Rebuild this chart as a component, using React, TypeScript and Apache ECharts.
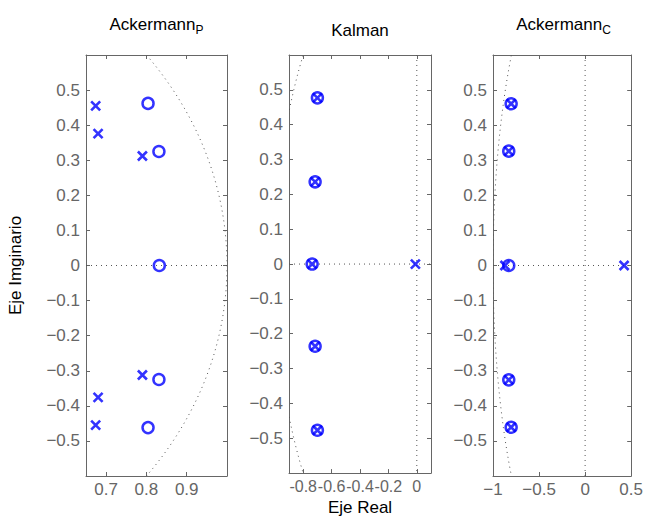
import React, { useEffect, useRef } from "react";
import * as echarts from "echarts";

// ---- axis ticks / ranges ----
const yTicks = [-0.5, -0.4, -0.3, -0.2, -0.1, 0, 0.1, 0.2, 0.3, 0.4, 0.5];
const yRange = [-0.6, 0.6];
const xTicksP = [0.7, 0.8, 0.9];
const xRangeP = [0.65, 1.0];
const xTicksK = [-0.8, -0.6, -0.4, -0.2, 0];
const xRangeK = [-0.9, 0.1];
const xTicksC = [-1, -0.5, 0, 0.5];
const xRangeC = [-1, 0.5];

// ---- panel titles ----
const titles = ["Ackermann{s|P}", "Kalman", "Ackermann{s|C}"];

// ---- unit circle (center re, center im, radius) ----
const unitCircle = [0, 0, 1];

// ---- Ackermann_P ----
const ackPPolesRe = [0.674, 0.68, 0.79, 0.79, 0.68, 0.674];
const ackPPolesIm = [0.455, 0.376, 0.312, -0.312, -0.376, -0.455];
const ackPZerosRe = [0.804, 0.831, 0.832, 0.831, 0.804];
const ackPZerosIm = [0.462, 0.325, 0, -0.325, -0.462];

// ---- Kalman ----
const kalPolesRe = [-0.7, -0.716, -0.737, -0.716, -0.7, -0.01];
const kalPolesIm = [0.477, 0.236, 0, -0.236, -0.477, 0];
const kalZerosRe = [-0.7, -0.716, -0.737, -0.716, -0.7];
const kalZerosIm = [0.477, 0.236, 0, -0.236, -0.477];

// ---- Ackermann_C ----
const ackCPolesRe = [-0.803, -0.829, -0.87, -0.829, -0.803, 0.423];
const ackCPolesIm = [0.461, 0.326, 0, -0.326, -0.461, 0];
const ackCZerosRe = [-0.803, -0.829, -0.829, -0.829, -0.803];
const ackCZerosIm = [0.461, 0.326, 0, -0.326, -0.461];

const FONT = "Liberation Sans, Arial, Helvetica, sans-serif";
const GRAY = "#666666";
const BLUE = "#0000ff";
const FS = 17;

const fmt = (v: number) => {
  const s = String(Math.round(v * 100) / 100);
  return s.replace("-", "\u2212");
};
const fmtNarrow = (v: number) => String(Math.round(v * 100) / 100);

const zip = (a: number[], b: number[]) => a.map((v, i) => [v, b[i]]);

export default function App() {
  const ref = useRef<HTMLDivElement>(null);
  useEffect(() => {
    if (!ref.current) return;
    const chart = echarts.init(ref.current, null, { renderer: "svg" });

    const grids = [
      { left: 86, top: 55, width: 141, height: 421 },
      { left: 289, top: 55, width: 142, height: 421 },
      { left: 493, top: 55, width: 141, height: 421 },
    ];
    const xCfg = [
      { range: xRangeP, ticks: xTicksP, fs: FS, f: fmt },
      { range: xRangeK, ticks: xTicksK, fs: 16, f: fmtNarrow },
      { range: xRangeC, ticks: xTicksC, fs: FS, f: fmt },
    ];
    const panels = [
      { poles: zip(ackPPolesRe, ackPPolesIm), zeros: zip(ackPZerosRe, ackPZerosIm) },
      { poles: zip(kalPolesRe, kalPolesIm), zeros: zip(kalZerosRe, kalZerosIm) },
      { poles: zip(ackCPolesRe, ackCPolesIm), zeros: zip(ackCZerosRe, ackCZerosIm) },
    ];

    const xAxis: any[] = [];
    const yAxis: any[] = [];
    grids.forEach((g, i) => {
      const common = {
        type: "value",
        gridIndex: i,
        min: xCfg[i].range[0],
        max: xCfg[i].range[1],
        axisLine: { show: true, onZero: false, lineStyle: { color: GRAY, width: 1 } },
        splitLine: { show: false },
        axisTick: { show: true, inside: true, length: 4, customValues: xCfg[i].ticks, lineStyle: { color: GRAY } },
      };
      xAxis.push({
        ...common,
        position: "bottom",
        axisLabel: {
          show: true,
          interval: 0,
          customValues: xCfg[i].ticks,
          formatter: (v: number) => xCfg[i].f(v),
          color: GRAY,
          fontSize: xCfg[i].fs,
          fontFamily: FONT,
          margin: 5,
          showMinLabel: true,
          showMaxLabel: true,
          hideOverlap: false,
        },
        ...(i === 1
          ? {
              name: "Eje Real",
              nameLocation: "middle",
              nameGap: 24,
              nameTextStyle: { color: "#000", fontSize: FS, fontFamily: FONT },
            }
          : {}),
      });
      xAxis.push({ ...common, position: "top", axisLabel: { show: false } });
      const ycommon = {
        type: "value",
        gridIndex: i,
        min: yRange[0],
        max: yRange[1],
        axisLine: { show: true, onZero: false, lineStyle: { color: GRAY, width: 1 } },
        splitLine: { show: false },
        axisTick: { show: true, inside: true, length: 4, customValues: yTicks, lineStyle: { color: GRAY } },
      };
      yAxis.push({
        ...ycommon,
        position: "left",
        axisLabel: {
          show: true,
          interval: 0,
          customValues: yTicks,
          formatter: (v: number) => fmt(v),
          color: GRAY,
          fontSize: FS,
          fontFamily: FONT,
          margin: 6,
          showMinLabel: true,
          showMaxLabel: true,
        },
        ...(i === 0
          ? {
              name: "Eje Imginario",
              nameLocation: "middle",
              nameGap: 62,
              nameTextStyle: { color: "#000", fontSize: FS, fontFamily: FONT },
            }
          : {}),
      });
      yAxis.push({ ...ycommon, position: "right", axisLabel: { show: false } });
    });

    const dotted = { fill: "none", stroke: "#555", lineWidth: 1, lineDash: [1, 4] };

    const series: any[] = [];
    panels.forEach((p, i) => {
      series.push({
        type: "custom",
        xAxisIndex: 2 * i,
        yAxisIndex: 2 * i,
        clip: true,
        silent: true,
        data: [unitCircle],
        renderItem: (params: any, api: any) => {
          const cs = params.coordSys;
          const c = api.coord([api.value(0), api.value(1)]);
          const r = api.value(2);
          const e = api.coord([api.value(0) + r, api.value(1) + r]);
          const rx = Math.abs(e[0] - c[0]);
          const ry = Math.abs(c[1] - e[1]);
          return {
            type: "group",
            children: [
              { type: "ellipse", shape: { cx: c[0], cy: c[1], rx, ry }, style: dotted },
              { type: "line", shape: { x1: cs.x, y1: c[1], x2: cs.x + cs.width, y2: c[1] }, style: dotted },
              { type: "line", shape: { x1: c[0], y1: cs.y, x2: c[0], y2: cs.y + cs.height }, style: dotted },
            ],
          };
        },
      });
      series.push({
        type: "scatter",
        xAxisIndex: 2 * i,
        yAxisIndex: 2 * i,
        data: p.zeros,
        symbol: "circle",
        symbolSize: 11,
        itemStyle: { color: "rgba(0,0,0,0)", borderColor: BLUE, borderWidth: 2.5 },
        silent: true,
      });
      series.push({
        type: "scatter",
        xAxisIndex: 2 * i,
        yAxisIndex: 2 * i,
        data: p.poles,
        symbol: "path://M0,0L10,10M10,0L0,10",
        symbolSize: 9,
        itemStyle: { color: "rgba(0,0,0,0)", borderColor: BLUE, borderWidth: 2.6 },
        silent: true,
      });
    });

    const titleY = [24, 30, 24];
    const graphic = grids.map((g, i) => ({
      type: "text",
      x: g.left + g.width / 2,
      y: titleY[i],
      style: {
        text: titles[i],
        align: "center",
        verticalAlign: "middle",
        fontSize: FS,
        fontFamily: FONT,
        fill: "#000",
        rich: { s: { fontSize: 12, fontFamily: FONT, fill: "#000", padding: [12, 0, 0, 0] } },
      },
    }));

    chart.setOption({
      animation: false,
      backgroundColor: "#fff",
      grid: grids,
      xAxis,
      yAxis,
      series,
      graphic,
    });
    return () => chart.dispose();
  }, []);
  return (
    <div
      ref={ref}
      style={{ position: "absolute", left: 0, top: 0, width: 646, height: 521 }}
    />
  );
}
